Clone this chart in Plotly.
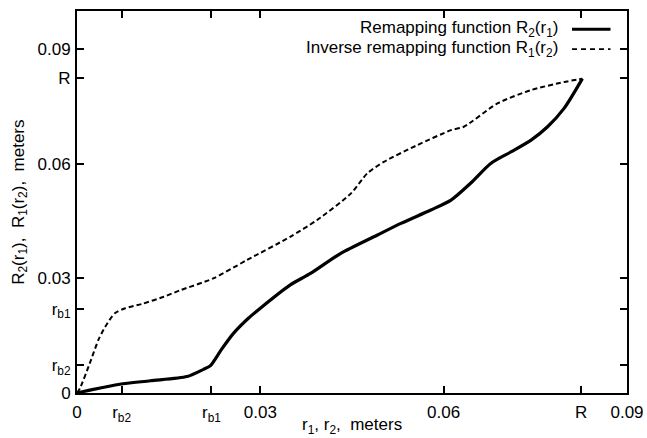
import plotly.graph_objects as go

# Special radii (meters)
R_VAL = 0.0825
RB1 = 0.0220
RB2 = 0.0073

tick_vals = [0, RB2, RB1, 0.03, 0.06, R_VAL, 0.09]
tick_text = ["0", "r<sub>b2</sub>", "r<sub>b1</sub>", "0.03", "0.06", "R", "0.09"]

# Remapping function R2(r1)
r1 = [0, 0.0025, 0.0070, 0.0120, 0.0180, 0.0207, 0.0218, 0.0236, 0.0256, 0.0280,
      0.0300, 0.0349, 0.0382, 0.0431, 0.0491, 0.0530, 0.0579, 0.0612, 0.0644,
      0.0677, 0.0710, 0.0743, 0.0770, 0.0797, 0.0827]
R2 = [0, 0.0009, 0.0023, 0.0032, 0.0043, 0.0062, 0.0071, 0.0113, 0.0156, 0.0195,
      0.0222, 0.0283, 0.0313, 0.0365, 0.0413, 0.0444, 0.0479, 0.0505, 0.0549,
      0.0601, 0.0631, 0.0662, 0.0697, 0.0745, 0.0823]

# Inverse remapping function R1(r2)
r2 = [0, 0.0005, 0.0021, 0.0035, 0.0046, 0.0062, 0.0079, 0.0106, 0.0142, 0.0169,
      0.0223, 0.0278, 0.0349, 0.0393, 0.0448, 0.0475, 0.0502, 0.0557, 0.0612,
      0.0633, 0.0688, 0.0743, 0.0797, 0.0827]
R1 = [0, 0.0013, 0.0078, 0.0139, 0.0173, 0.0209, 0.0222, 0.0233, 0.0252, 0.0269,
      0.0300, 0.0348, 0.0409, 0.0453, 0.0522, 0.0575, 0.0605, 0.0649, 0.0688,
      0.0697, 0.0758, 0.0793, 0.0814, 0.0823]

legend_labels = ["Remapping function R<sub>2</sub>(r<sub>1</sub>)",
                 "Inverse remapping function R<sub>1</sub>(r<sub>2</sub>)"]
x_title = "r<sub>1</sub>, r<sub>2</sub>,&nbsp; meters"
y_title = "R<sub>2</sub>(r<sub>1</sub>),&nbsp; R<sub>1</sub>(r<sub>2</sub>),&nbsp; meters"

FONT = "Liberation Sans, Arial, sans-serif"
FS = 17

fig = go.Figure()
fig.add_trace(go.Scatter(x=r2, y=R1, mode="lines", showlegend=False,
                         line=dict(color="black", width=2, dash="5px,3px",
                                   shape="spline", smoothing=0.7)))
fig.add_trace(go.Scatter(x=r1, y=R2, mode="lines", showlegend=False,
                         line=dict(color="black", width=3.2,
                                   shape="spline", smoothing=0.7)))

axis_common = dict(
    tickvals=tick_vals, ticktext=tick_text,
    ticks="inside", ticklen=7, tickwidth=2, tickcolor="black",
    showline=True, linewidth=2, linecolor="black", mirror="allticks",
    showgrid=False, zeroline=False, automargin=False,
    tickfont=dict(family=FONT, size=FS, color="black"),
)

fig.update_xaxes(range=[0, 0.09], ticklabelstandoff=3, **axis_common)
fig.update_yaxes(range=[0, 0.1], ticklabelstandoff=1, **axis_common)

# Axis titles
fig.add_annotation(xref="paper", yref="paper", x=0.5, y=-0.086, text=x_title,
                   showarrow=False, xanchor="center", yanchor="middle",
                   font=dict(family=FONT, size=FS, color="black"))
fig.add_annotation(xref="paper", yref="paper", x=-0.104, y=0.5, text=y_title,
                   showarrow=False, xanchor="center", yanchor="middle", textangle=-90,
                   font=dict(family=FONT, size=FS, color="black"))

# Legend drawn manually (text right-aligned, sample on the right, gnuplot style)
leg_y = [0.952, 0.900]
dashes = ["solid", "dash"]
widths = [3, 1.8]
for lab, yy, d, w in zip(legend_labels, leg_y, dashes, widths):
    fig.add_annotation(xref="paper", yref="paper", x=0.878, y=yy, text=lab,
                       showarrow=False, xanchor="right", yanchor="middle",
                       font=dict(family=FONT, size=FS, color="black"))
    fig.add_shape(type="line", xref="paper", yref="paper", x0=0.900, x1=0.970,
                  y0=yy, y1=yy, line=dict(color="black", width=w,
                  dash="5px,4px" if d == "dash" else "solid"))

fig.update_layout(
    width=647, height=438,
    margin=dict(l=77, r=20, t=11, b=45),
    plot_bgcolor="white", paper_bgcolor="white",
    font=dict(family=FONT, size=FS, color="black"),
)

fig.write_html("out.html")
